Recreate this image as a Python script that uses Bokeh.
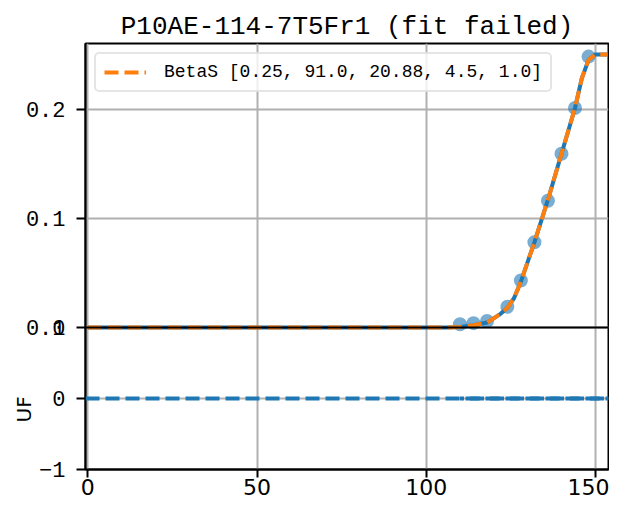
from bokeh.plotting import figure
from bokeh.models import Range1d, FixedTicker, Span, Title
from bokeh.embed import file_html
from bokeh.resources import INLINE

# ---------------- data ----------------
title_text = "P10AE-114-7T5Fr1 (fit failed)"
fit_label = "BetaS [0.25, 91.0, 20.88, 4.5, 1.0]"
uf_label = "UF"

# measured points (top panel)
pt_x = [110, 114, 118, 124, 128, 132, 136, 140, 144, 148]
pt_y = [0.003, 0.004, 0.006, 0.019, 0.043, 0.078, 0.116, 0.159, 0.201, 0.248]

# curve (data line and BetaS fit overlap)
curve_x = [0, 106, 110, 114, 118, 122, 124, 126, 128, 132, 136, 140, 144, 146, 148, 150, 153.5]
curve_y = [0, 0, 0.0005, 0.002, 0.0045, 0.0125, 0.018, 0.027, 0.042, 0.078, 0.117, 0.159, 0.201, 0.228, 0.245, 0.25, 0.25]

# bottom panel (UF residuals)
uf_zero = 0
resid_x = [110, 153.5]
resid_y = [0, 0]

x_ticks = [0, 50, 100, 150]
top_ticks = [0.0, 0.1, 0.2]
top_tick_labels = ["0.0", "0.1", "0.2"]
uf_ticks = [-1, 0, 1]
uf_tick_labels = ["\u22121", "0", "1"]

# ---------------- styling ----------------
BLUE = "#1f77b4"
ORANGE = "#ff7f0e"
GRID = "#b0b0b0"
MONO = "Liberation Mono"
SANS = "DejaVu Sans"

X0, X1 = -0.7, 153.9
TOP0, TOP1 = -0.13, 0.26
UF0, UF1 = -1, 1
k = (0 - TOP0) / (UF1 - UF0)


def to_top(v):
    return TOP0 + (v - UF0) * k


uf_end = UF0 + (TOP1 - TOP0) / k

p = figure(width=609, height=504,
           x_range=Range1d(X0, X1), y_range=Range1d(TOP0, TOP1),
           output_backend="svg", toolbar_location=None,
           min_border_left=85, min_border_right=1,
           min_border_top=43, min_border_bottom=35)
p.extra_y_ranges = {"uf": Range1d(UF0, uf_end)}

p.title.text = title_text
p.title.text_font = MONO
p.title.text_font_size = "26px"
p.title.text_font_style = "normal"
p.title.align = "center"
p.title.vertical_align = "top"
p.title.standoff = 0
p.title.text_color = "black"

p.outline_line_color = "black"
p.outline_line_width = 2
p.outline_line_alpha = 1.0

# grids
p.xgrid.ticker = FixedTicker(ticks=x_ticks)
p.xgrid.grid_line_color = GRID
p.xgrid.grid_line_width = 2
p.ygrid.ticker = FixedTicker(ticks=[to_top(0)] + top_ticks)
p.ygrid.grid_line_color = GRID
p.ygrid.grid_line_width = 2

# x axis
xa = p.xaxis[0]
xa.ticker = FixedTicker(ticks=x_ticks)
xa.major_label_text_font = SANS
xa.major_label_text_font_size = "22px"
xa.major_label_text_color = "black"
xa.major_tick_out = 8
xa.major_tick_in = 0
xa.major_tick_line_width = 2
xa.major_tick_line_color = "black"
xa.minor_tick_line_color = None
xa.axis_line_width = 2
xa.axis_line_color = "black"
xa.major_label_standoff = 1

# y axis: top panel ticks + UF panel ticks (UF "1" shares the 0.0 position)
ya = p.yaxis[0]
uf_pos = [to_top(v) for v in uf_ticks]
uf_pos[2] = uf_pos[2] + 1e-9
ya.ticker = FixedTicker(ticks=uf_pos + top_ticks)
overrides = {}
for pos, lab in zip(uf_pos, uf_tick_labels):
    overrides[pos] = lab
for pos, lab in zip(top_ticks, top_tick_labels):
    overrides[pos] = lab
ya.major_label_overrides = overrides
ya.major_label_text_font = MONO
ya.major_label_text_font_size = "22px"
ya.major_label_text_color = "black"
ya.major_tick_out = 9
ya.major_tick_in = 0
ya.major_tick_line_width = 2
ya.major_tick_line_color = "black"
ya.minor_tick_line_color = None
ya.axis_line_width = 2
ya.axis_line_color = "black"
ya.major_label_standoff = 11

# UF label at the left of the bottom panel
uf_title = Title(text=uf_label, align="left", offset=47, standoff=0,
                 text_font=SANS, text_font_size="20px",
                 text_font_style="normal", text_color="black")
try:
    uf_title.standoff = -26
except Exception:
    pass
p.add_layout(uf_title, "left")

# top panel glyphs
p.scatter(pt_x, pt_y, size=14, fill_color=BLUE, fill_alpha=0.6, line_color=None)
p.line(curve_x, curve_y, line_color=BLUE, line_width=4)
p.line(curve_x, curve_y, line_color=ORANGE, line_width=4, line_dash="14 6",
       legend_label=fit_label)

# divider between panels
p.add_layout(Span(location=0, dimension="width", line_color="black", line_width=2))

# bottom panel glyphs
p.add_layout(Span(location=uf_zero, dimension="width", y_range_name="uf",
                  line_color=BLUE, line_width=4, line_dash="14 6"))
p.line(resid_x, resid_y, y_range_name="uf", line_color=BLUE, line_width=4,
       line_dash="14 6", line_dash_offset=10)

# legend
lg = p.legend[0]
lg.location = "top_left"
lg.margin = 9
lg.padding = 8
lg.spacing = 0
lg.glyph_width = 42
lg.glyph_height = 20
lg.label_standoff = 18
lg.label_text_font = MONO
lg.label_text_font_size = "18px"
lg.label_text_color = "black"
lg.border_line_color = "#cccccc"
lg.border_line_width = 2
lg.background_fill_color = "white"
lg.background_fill_alpha = 0.8
try:
    lg.border_radius = 5
except Exception:
    pass

open("out.html", "w").write(file_html(p, INLINE))
